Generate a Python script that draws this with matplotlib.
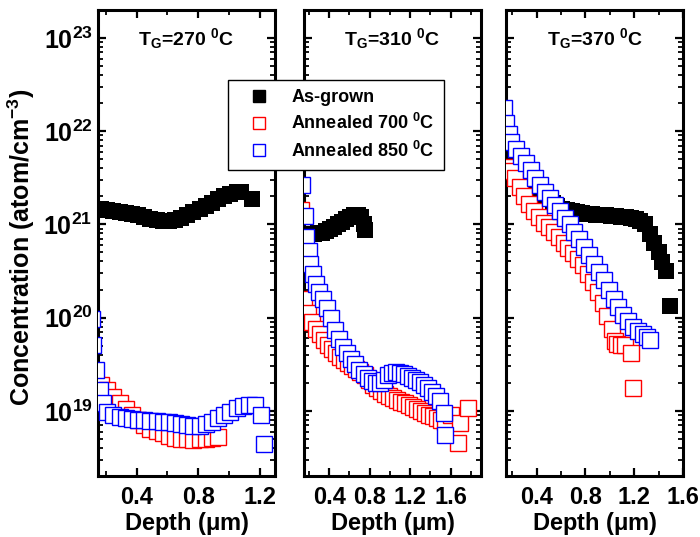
import numpy as np
import matplotlib
matplotlib.use('Agg')
import matplotlib.pyplot as plt
from matplotlib.ticker import LogLocator, MultipleLocator, NullFormatter, FuncFormatter
from matplotlib.lines import Line2D

plt.rcParams['font.family'] = ['Liberation Sans', 'DejaVu Sans']
plt.rcParams['font.weight'] = 'bold'
plt.rcParams['mathtext.fontset'] = 'custom'
plt.rcParams['mathtext.rm'] = 'Liberation Sans:bold'
plt.rcParams['mathtext.bf'] = 'Liberation Sans:bold'
plt.rcParams['mathtext.it'] = 'Liberation Sans:bold'
plt.rcParams['mathtext.default'] = 'bf'

# SIMS depth profiles, concentration stored as log10(atom/cm^-3)
# T_G = 270 C
d_grown_270 = [0.17, 0.21, 0.25, 0.29, 0.33, 0.37, 0.41, 0.45, 0.49, 0.53, 0.57, 0.61, 0.65,
               0.69, 0.73, 0.77, 0.81, 0.85, 0.89, 0.93, 0.97, 1.01, 1.05, 1.08, 1.15]
lg_grown_270 = [21.16, 21.15, 21.14, 21.13, 21.12, 21.11, 21.10, 21.08, 21.06, 21.05, 21.04, 21.04, 21.05,
                21.07, 21.10, 21.13, 21.16, 21.20, 21.23, 21.27, 21.30, 21.33, 21.35, 21.35, 21.27]
d_700_270 = [0.17, 0.21, 0.25, 0.29, 0.33, 0.37, 0.41, 0.45, 0.49, 0.53, 0.57, 0.61, 0.65,
             0.69, 0.73, 0.77, 0.81, 0.85, 0.89, 0.93]
lg_700_270 = [19.28, 19.22, 19.15, 19.08, 19.02, 18.96, 18.90, 18.85, 18.81, 18.78, 18.76, 18.73, 18.71,
              18.70, 18.70, 18.69, 18.70, 18.70, 18.71, 18.72]
d_850_270 = [0.11, 0.12, 0.14, 0.16, 0.18, 0.21, 0.25, 0.29, 0.33, 0.37, 0.41, 0.45, 0.49, 0.53,
             0.57, 0.61, 0.65, 0.69, 0.73, 0.77, 0.81, 0.85, 0.89, 0.93, 0.97, 1.01, 1.05, 1.09,
             1.13, 1.17, 1.21, 1.23]
lg_850_270 = [19.98, 19.71, 19.44, 19.22, 19.08, 18.99, 18.95, 18.93, 18.92, 18.91, 18.90, 18.90, 18.89, 18.89,
              18.88, 18.88, 18.87, 18.86, 18.85, 18.84, 18.84, 18.86, 18.88, 18.92, 18.95, 18.99, 19.03, 19.05,
              19.06, 19.06, 18.96, 18.64]

# T_G = 310 C
d_grown_310 = [0.17, 0.21, 0.25, 0.29, 0.33, 0.37, 0.41, 0.45, 0.49, 0.53, 0.57, 0.61, 0.65,
               0.69, 0.72, 0.74, 0.75]
lg_grown_310 = [20.90, 20.90, 20.90, 20.91, 20.91, 20.93, 20.95, 20.97, 21.00, 21.03, 21.06, 21.08, 21.10,
                21.10, 21.08, 21.00, 20.94]
d_700_310 = [0.12, 0.15, 0.19, 0.23, 0.27, 0.31, 0.35, 0.39, 0.43, 0.47, 0.51, 0.55, 0.59, 0.63,
             0.67, 0.71, 0.75, 0.79, 0.83, 0.87, 0.91, 0.95, 0.99, 1.03, 1.07, 1.11, 1.15, 1.19,
             1.23, 1.27, 1.31, 1.35, 1.39, 1.43, 1.47, 1.51, 1.55, 1.60, 1.67, 1.69, 1.77]
lg_700_310 = [21.15, 20.20, 20.05, 19.95, 19.88, 19.82, 19.76, 19.71, 19.66, 19.62, 19.58, 19.54, 19.51, 19.48,
              19.45, 19.42, 19.38, 19.33, 19.28, 19.24, 19.21, 19.18, 19.16, 19.14, 19.12, 19.10, 19.08, 19.06,
              19.04, 19.02, 19.00, 18.98, 18.96, 18.94, 18.92, 18.90, 18.88, 18.95, 18.65, 18.87, 19.03]
d_850_310 = [0.13, 0.16, 0.17, 0.20, 0.21, 0.24, 0.27, 0.30, 0.34, 0.38, 0.42, 0.46, 0.50, 0.54,
             0.58, 0.62, 0.66, 0.70, 0.74, 0.78, 0.82, 0.86, 0.90, 0.94, 0.98, 1.02, 1.06, 1.10,
             1.14, 1.18, 1.22, 1.26, 1.30, 1.34, 1.38, 1.42, 1.46, 1.50, 1.54, 1.55]
lg_850_310 = [21.42, 21.09, 20.87, 20.71, 20.57, 20.47, 20.36, 20.28, 20.20, 20.10, 20.00, 19.87, 19.77, 19.69,
              19.62, 19.56, 19.50, 19.44, 19.39, 19.35, 19.32, 19.30, 19.30, 19.33, 19.38, 19.41, 19.42, 19.41,
              19.39, 19.37, 19.35, 19.33, 19.31, 19.28, 19.24, 19.20, 19.16, 19.11, 18.98, 18.74]

# T_G = 370 C
d_grown_370 = [0.17, 0.21, 0.25, 0.29, 0.33, 0.37, 0.41, 0.45, 0.49, 0.53, 0.57, 0.61, 0.65,
               0.69, 0.73, 0.77, 0.81, 0.85, 0.89, 0.93, 0.97, 1.01, 1.05, 1.09, 1.13, 1.17,
               1.21, 1.25, 1.29, 1.33, 1.36, 1.40, 1.43, 1.46, 1.49]
lg_grown_370 = [21.80, 21.70, 21.62, 21.55, 21.48, 21.42, 21.37, 21.32, 21.27, 21.23, 21.20, 21.17, 21.15,
                21.14, 21.13, 21.12, 21.11, 21.11, 21.10, 21.10, 21.10, 21.09, 21.09, 21.08, 21.08, 21.07,
                21.06, 21.04, 21.00, 20.90, 20.80, 20.70, 20.60, 20.50, 20.12]
d_700_370 = [0.16, 0.19, 0.22, 0.26, 0.30, 0.34, 0.38, 0.42, 0.46, 0.50, 0.54, 0.58, 0.62, 0.66,
             0.70, 0.74, 0.78, 0.82, 0.86, 0.90, 0.94, 0.98, 1.02, 1.04, 1.06, 1.09, 1.12, 1.17, 1.19]
lg_700_370 = [21.62, 21.57, 21.50, 21.40, 21.30, 21.22, 21.14, 21.08, 21.02, 20.97, 20.92, 20.86, 20.80, 20.75,
              20.69, 20.63, 20.56, 20.47, 20.38, 20.28, 20.16, 20.02, 19.88, 19.75, 19.72, 19.71, 19.71,
              19.62, 19.24]
d_850_370 = [0.13, 0.15, 0.17, 0.19, 0.23, 0.27, 0.31, 0.35, 0.39, 0.43, 0.47, 0.51, 0.55, 0.59,
             0.63, 0.67, 0.71, 0.75, 0.79, 0.83, 0.87, 0.91, 0.95, 0.99, 1.03, 1.07, 1.11, 1.15,
             1.19, 1.23, 1.27, 1.30, 1.33]
lg_850_370 = [22.25, 22.09, 21.97, 21.88, 21.81, 21.73, 21.66, 21.58, 21.50, 21.42, 21.35, 21.28, 21.21, 21.14,
              21.07, 21.00, 20.92, 20.84, 20.76, 20.67, 20.58, 20.49, 20.40, 20.30, 20.20, 20.11, 20.03, 19.96,
              19.90, 19.86, 19.82, 19.79, 19.76]

growth_temps = ['270', '310', '370']
x_limits = [(0.15, 1.30), (0.15, 1.90), (0.15, 1.60)]
grown = [(d_grown_270, lg_grown_270), (d_grown_310, lg_grown_310), (d_grown_370, lg_grown_370)]
ann700 = [(d_700_270, lg_700_270), (d_700_310, lg_700_310), (d_700_370, lg_700_370)]
ann850 = [(d_850_270, lg_850_270), (d_850_310, lg_850_310), (d_850_370, lg_850_370)]

fig = plt.figure(figsize=(7, 5.37), dpi=100)
lefts = [0.140, 0.434, 0.723]
axes = [fig.add_axes([l, 0.1136, 0.253, 0.868]) for l in lefts]

for i, ax in enumerate(axes):
    d, lg = grown[i]
    ax.plot(d, 10 ** np.array(lg), 's', color='black', ms=12, mew=0, zorder=2)
    d, lg = ann700[i]
    ax.plot(d, 10 ** np.array(lg), 's', mfc='white', mec='red', ms=11.5, mew=1.0, zorder=3)
    d, lg = ann850[i]
    ax.plot(d, 10 ** np.array(lg), 's', mfc='white', mec='blue', ms=11.5, mew=1.0, zorder=4)

    ax.set_yscale('log')
    ax.set_ylim(2e18, 2e23)
    ax.set_xlim(*x_limits[i])
    ax.xaxis.set_major_locator(MultipleLocator(0.4))
    ax.xaxis.set_minor_locator(MultipleLocator(0.2))
    ax.yaxis.set_major_locator(LogLocator(base=10))
    ax.yaxis.set_minor_locator(LogLocator(base=10, subs=np.arange(2, 10)))
    ax.yaxis.set_minor_formatter(NullFormatter())
    ax.tick_params(which='both', direction='in', top=True, right=True)
    ax.tick_params(which='major', length=6, width=1.6, pad=7)
    ax.tick_params(which='minor', length=3.5, width=1.3)
    ax.tick_params(axis='x', labelsize=17)
    ax.tick_params(axis='y', labelsize=18, pad=4)
    for s in ax.spines.values():
        s.set_linewidth(2.2)
    ax.xaxis.set_major_formatter(FuncFormatter(lambda v, p: '%.1f' % v))
    if i == 0:
        ax.yaxis.set_major_formatter(FuncFormatter(lambda v, p: r'$10^{%d}$' % round(np.log10(v))))
    else:
        ax.set_yticklabels([])
    ax.set_xlabel(r'Depth ($\mathregular{\mu}$m)', fontsize=17, fontweight='bold', labelpad=1)
    ax.text(0.5, 0.965, r'T$_{G}$=%s $^{0}$C' % growth_temps[i], transform=ax.transAxes,
            ha='center', va='top', fontsize=14, fontweight='bold')

fig.text(0.030, 0.54, r'Concentration (atom/cm$^{-3}$)', rotation=90, ha='center', va='center',
         fontsize=18, fontweight='bold')

handles = [Line2D([], [], ls='none', marker='s', color='black', ms=8),
           Line2D([], [], ls='none', marker='s', mfc='white', mec='red', ms=8, mew=1.0),
           Line2D([], [], ls='none', marker='s', mfc='white', mec='blue', ms=8, mew=1.0)]
labels = ['As-grown', r'Annealed 700 $^{0}$C', r'Annealed 850 $^{0}$C']
leg = fig.legend(handles, labels, loc='upper left', bbox_to_anchor=(0.326, 0.851), borderaxespad=0,
                 fancybox=False, framealpha=1, edgecolor='black', fontsize=13, handlelength=2.4,
                 handletextpad=0.6, borderpad=0.5, labelspacing=0.4)
leg.get_frame().set_linewidth(1.0)
leg.set_zorder(10)

fig.savefig('out.png', dpi=100)
